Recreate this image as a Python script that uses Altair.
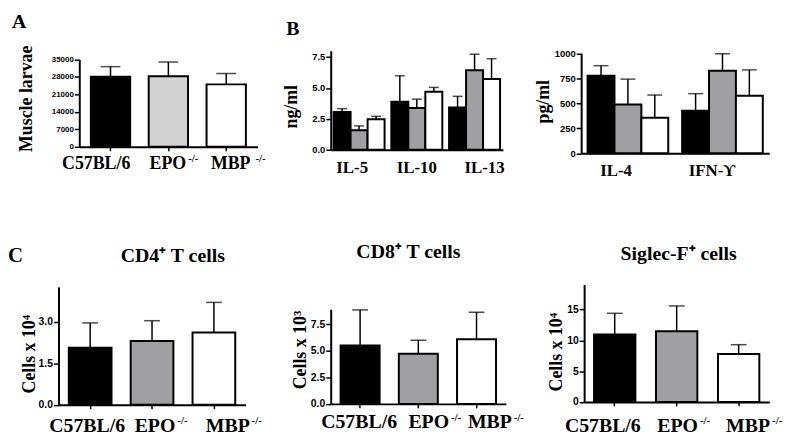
import altair as alt
import pandas as pd

# ---------------- data ----------------
groups = ["C57BL/6", "EPO -/-", "MBP -/-"]

a_mean = [28100, 28250, 25000]
a_sem = [4000, 5700, 4350]

b1_cyt = ["IL-5", "IL-10", "IL-13"]
b1_c57 = [3.06, 3.88, 3.42]
b1_c57_sem = [0.26, 2.10, 0.90]
b1_epo = [1.58, 3.37, 6.43]
b1_epo_sem = [0.35, 0.72, 1.29]
b1_mbp = [2.46, 4.69, 5.72]
b1_mbp_sem = [0.24, 0.35, 1.64]

b2_cyt = ["IL-4", "IFN-ϒ"]
b2_c57 = [774, 424]
b2_c57_sem = [102, 172]
b2_epo = [487, 824]
b2_epo_sem = [254, 171]
b2_mbp = [354, 576]
b2_mbp_sem = [228, 258]

cd4_mean = [2.05, 2.30, 2.60]
cd4_sem = [0.90, 0.73, 1.09]
cd8_mean = [5.48, 4.71, 6.08]
cd8_sem = [3.35, 1.27, 2.53]
sig_mean = [10.97, 11.5, 7.8]
sig_sem = [3.43, 4.1, 1.5]

W, H = 792, 436
SERIF = "Liberation Serif"
SANS = "Liberation Sans"


def simple_df(means, sems):
    return pd.DataFrame({"g": groups, "mean": means, "sem": sems})


def grouped_df(cyts, series, sems):
    rows = []
    for g, vals, ss in zip(groups, series, sems):
        for c, v, s in zip(cyts, vals, ss):
            rows.append({"cyt": c, "g": g, "mean": v, "sem": s})
    return pd.DataFrame(rows)


def per_label(keys, vals):
    conds = [{"test": f"datum.value === '{k}'", "value": v}
             for k, v in zip(keys[:-1], vals[:-1])]
    return {"condition": conds, "value": vals[-1]}


def panel(df, xfield, xsort, xrange, pin, pout, ybot, ytop, ymax, yticks, yfmt,
          ylabsize, ytitle, ytx, yty, xlabsize, xbase, xticks, cap, fills,
          main_off, sup_off=None, sup_rise=7.5, grouped=False):
    def xs():
        return alt.Scale(range=xrange, paddingInner=pin, paddingOuter=pout)

    def ys():
        return alt.Scale(domain=[0, ymax], range=[ybot, ytop], nice=False)

    tsize = 4 if xticks else 0
    xaxis = alt.Axis(orient="bottom", offset=-(H - ybot), title=None, labelAngle=0,
                     labelFontSize=xlabsize, labelBaseline="alphabetic",
                     labelExpr="split(datum.value, ' ')[0]",
                     labelOffset=per_label(xsort, main_off),
                     labelPadding=xbase - tsize, ticks=xticks, tickSize=tsize)
    yaxis = alt.Axis(orient="left", offset=-xrange[0], values=yticks, format=yfmt,
                     labelFontSize=ylabsize, tickSize=5, labelPadding=1,
                     title=ytitle, titleAngle=270, titleBaseline="alphabetic",
                     titleAlign="center", titleX=ytx, titleY=yty)
    if sup_off is not None:
        supaxis = alt.Axis(orient="bottom", offset=-(H - ybot), title=None, labelAngle=0,
                           domain=False, ticks=False, tickSize=0,
                           labelFontSize=11, labelBaseline="alphabetic", labelAlign="left",
                           labelExpr="indexof(datum.value, ' ') > 0 ? split(datum.value, ' ')[1] : ''",
                           labelOffset=per_label(xsort, sup_off),
                           labelPadding=xbase - sup_rise)
    else:
        supaxis = None
    base = alt.Chart(df).transform_calculate(top="datum.mean + datum.sem")

    def xo():
        if grouped:
            return {"xOffset": alt.XOffset("g:N", sort=groups,
                                           scale=alt.Scale(paddingInner=0, paddingOuter=0))}
        return {}

    bars = base.mark_bar(stroke="black", strokeWidth=2).encode(
        x=alt.X(f"{xfield}:N", sort=xsort, scale=xs(), axis=xaxis),
        y=alt.Y("mean:Q", scale=ys(), axis=yaxis),
        fill=alt.Fill("g:N", sort=groups, scale=alt.Scale(domain=groups, range=fills), legend=None),
        **xo(),
    )
    whisk = base.mark_rule(color="black", strokeWidth=1.5).encode(
        x=alt.X(f"{xfield}:N", sort=xsort, scale=xs(), axis=supaxis),
        y=alt.Y("mean:Q", scale=ys(), axis=None),
        y2="top:Q",
        **xo(),
    )
    caps = base.mark_tick(color="black", thickness=1.5, size=cap).encode(
        x=alt.X(f"{xfield}:N", sort=xsort, scale=xs(), axis=None),
        y=alt.Y("top:Q", scale=ys(), axis=None),
        **xo(),
    )
    return [bars, whisk, caps]


def label(text, x, y, size, align="left"):
    return alt.Chart(pd.DataFrame({"t": [text]})).mark_text(
        font=SERIF, fontWeight="bold", fontSize=size, align=align,
        baseline="alphabetic", color="black"
    ).encode(x=alt.value(x), y=alt.value(y), text="t:N")


dark = ["#000000", "#a0a0a2", "#ffffff"]
light = ["#000000", "#d3d3d3", "#ffffff"]

pA = panel(simple_df(a_mean, a_sem), "g", groups, [72, 252], 0.32, 0.2,
           138, 49.7, 35000, [0, 7000, 14000, 21000, 28000, 35000], "d", 8,
           "Muscle larvae", -48, 89, 18, 21.7, True, 20, light,
           [-14.5, -0.5, 4.5], [None, 20, 29.5], 7)

pB1 = panel(grouped_df(b1_cyt, [b1_c57, b1_epo, b1_mbp], [b1_c57_sem, b1_epo_sem, b1_mbp_sem]),
            "cyt", b1_cyt, [326, 500], 0.117, 0.05,
            141, 41, 8.0, [0, 2.5, 5, 7.5], ".1f", 9.5,
            "ng/ml", -35, 97, 17, 23, False, 10, dark,
            [-7, 0, 10], grouped=True)

pB2 = panel(grouped_df(b2_cyt, [b2_c57, b2_epo, b2_mbp], [b2_c57_sem, b2_epo_sem, b2_mbp_sem]),
            "cyt", b2_cyt, [579, 769], 0.147, 0.068,
            144.5, 43.5, 1000, [0, 250, 500, 750, 1000], "d", 9.5,
            "pg/ml", -32.5, 92, 17, 22.5, False, 15, dark,
            [-12, -10.5], grouped=True)

pC1 = panel(simple_df(cd4_mean, cd4_sem), "g", groups, [51, 240], 0.31, 0.167,
            398.5, 279.5, 4.25, [0, 1.5, 3.0], ".1f", 10.5,
            "Cells x 10⁴", -24.5, 347, 20, 26.8, True, 16, dark,
            [-3, 3, 14], [None, 25.5, 38])

pC2 = panel(simple_df(cd8_mean, cd8_sem), "g", groups, [326, 503], 0.33, 0.17,
            397.7, 302, 8.9, [0, 2.5, 5, 7.5], ".1f", 10.5,
            "Cells x 10³", -25.5, 342.8, 20, 24.3, True, 16, dark,
            [-1, 10.5, 13.5], [None, 33, 37.5])

pC3 = panel(simple_df(sig_mean, sig_sem), "g", groups, [582, 769], 0.333, 0.16,
            395.7, 277, 19.1, [0, 5, 10, 15], "d", 10.5,
            "Cells x 10⁴", -23, 345, 20, 29.6, True, 16, dark,
            [-12, 1, 9.5], [None, 23.5, 33.7])

texts = [
    label("A", 4, 18, 20),
    label("B", 281, 25, 20),
    label("C", 0, 254, 21),
    label("CD4⁺ T cells", 166.5, 254.7, 20, "center"),
    label("CD8⁺ T cells", 404.5, 250, 20, "center"),
    label("Siglec-F⁺ cells", 677.5, 252, 20, "center"),
]

chart = alt.layer(*pA, *pB1, *pB2, *pC1, *pC2, *pC3, *texts).resolve_scale(
    x="independent", y="independent", fill="independent", xOffset="independent"
).properties(
    width=W, height=H, padding=0, autosize="none", background="white"
).configure_view(stroke=None).configure_axis(
    grid=False, domainColor="black", domainWidth=2, tickColor="black", tickWidth=1.5,
    labelColor="black", titleColor="black", labelFontWeight="bold",
    titleFont=SERIF, titleFontWeight="bold", titleFontSize=18
).configure_axisX(labelFont=SERIF).configure_axisY(labelFont=SANS)

chart.save("out.html", embed_options={"renderer": "svg", "actions": False})
